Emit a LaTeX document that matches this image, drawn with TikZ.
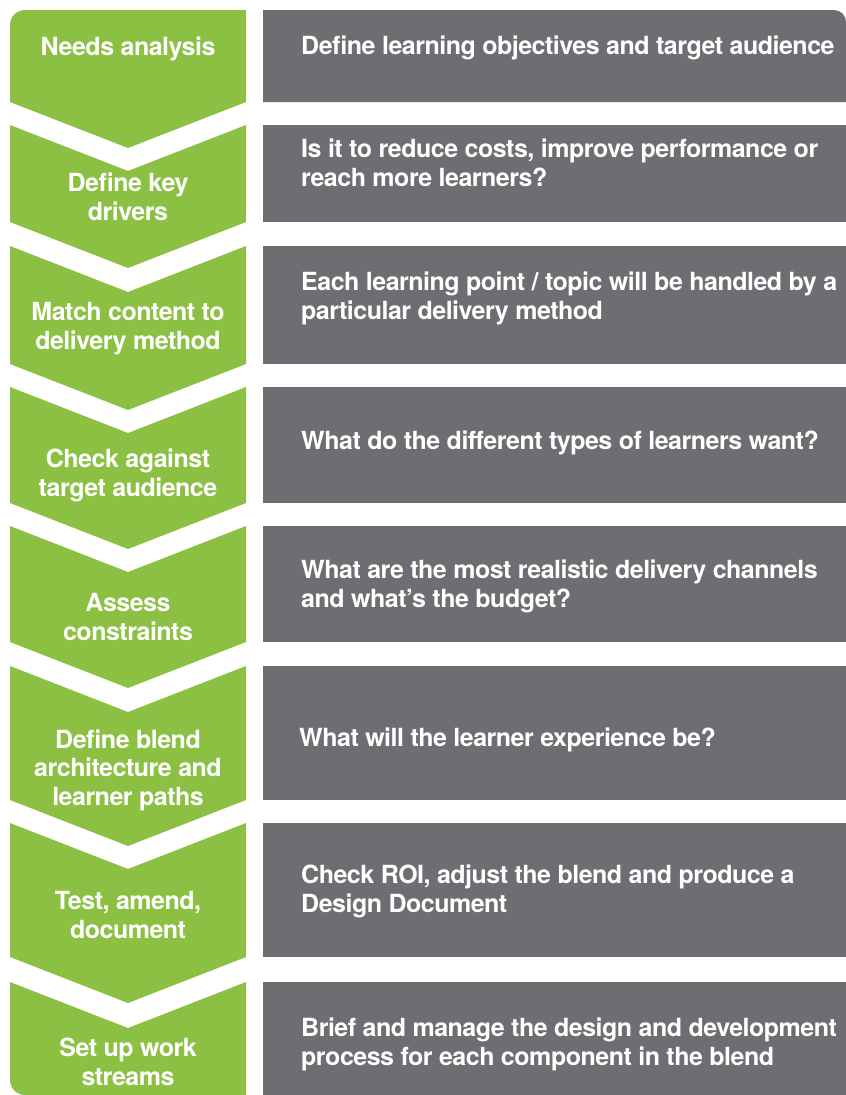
\documentclass[tikz,border=0pt]{standalone}
\usepackage{fontspec}
\setmainfont{TeX Gyre Heros}[LetterSpace=-2]
\definecolor{stepgreen}{HTML}{8CC043}
\definecolor{stepgray}{HTML}{6D6E72}
\begin{document}
\begin{tikzpicture}[x=1pt,y=-1pt,
  greenblk/.style={fill=stepgreen},
  graybox/.style={fill=stepgray},
  lefttxt/.style={text=white,font=\fontsize{25}{28.5}\selectfont\bfseries,align=center,inner sep=0pt,anchor=base},
  righttxt/.style={text=white,font=\fontsize{25}{28.5}\selectfont\bfseries,align=left,inner sep=0pt,anchor=base west}]
\useasboundingbox (0,0) rectangle (846,1095);
% green chevrons
\path[greenblk] (10,25) arc[start angle=180,end angle=270,radius=15] -- (246,10) -- (246,102) -- (128,148) -- (10,102) -- cycle;
\foreach \t/\b in {125/222,246/364,387/503,526/642,666/800,823/957}{
  \path[greenblk] (10,\t) -- (128,\t+46) -- (246,\t) -- (246,\b) -- (128,\b+46) -- (10,\b) -- cycle;
}
\path[greenblk] (10,982) -- (128,1028) -- (246,982) -- (246,1095) -- (25,1095) arc[start angle=90,end angle=180,radius=15] -- cycle;
% gray boxes
\path[graybox] (263,10) -- (834,10) arc[start angle=270,end angle=360,radius=12] -- (846,102) -- (263,102) -- cycle;
\path[graybox] (263,125) rectangle (846,222);
\path[graybox] (263,246) rectangle (846,364);
\path[graybox] (263,387) rectangle (846,503);
\path[graybox] (263,526) rectangle (846,642);
\path[graybox] (263,666) rectangle (846,800);
\path[graybox] (263,823) rectangle (846,957);
\path[graybox] (263,982) rectangle (846,1095);
% left labels (anchor at baseline of last line)
\node[lefttxt] (l1) at (128,55) {Needs analysis};
\node[lefttxt] (l2) at (128,220) {Define key\\drivers};
\node[lefttxt] (l3) at (128,349) {Match content to\\delivery method};
\node[lefttxt] (l4) at (128,496) {Check against\\target audience};
\node[lefttxt] (l5) at (128,640) {Assess\\constraints};
\node[lefttxt] (l6) at (128,805) {Define blend\\architecture and\\learner paths};
\node[lefttxt] (l7) at (128,938) {Test, amend,\\document};
\node[lefttxt] (l8) at (128,1085) {Set up work\\streams};
% right texts
\node[righttxt] (r1) at (301,54) {Define learning objectives and target audience};
\node[righttxt] (r2) at (301,186) {Is it to reduce costs, improve performance or\\reach more learners?};
\node[righttxt] (r3) at (301,319) {Each learning point / topic will be handled by a\\particular delivery method};
\node[righttxt] (r4) at (301,449) {What do the different types of learners want?};
\node[righttxt] (r5) at (301,607) {What are the most realistic delivery channels\\and what’s the budget?};
\node[righttxt] (r6) at (299,746) {What will the learner experience be?};
\node[righttxt] (r7) at (301,912) {Check ROI, adjust the blend and produce a\\Design Document};
\node[righttxt] (r8) at (301,1065) {Brief and manage the design and development\\process for each component in the blend};
\end{tikzpicture}
\end{document}
